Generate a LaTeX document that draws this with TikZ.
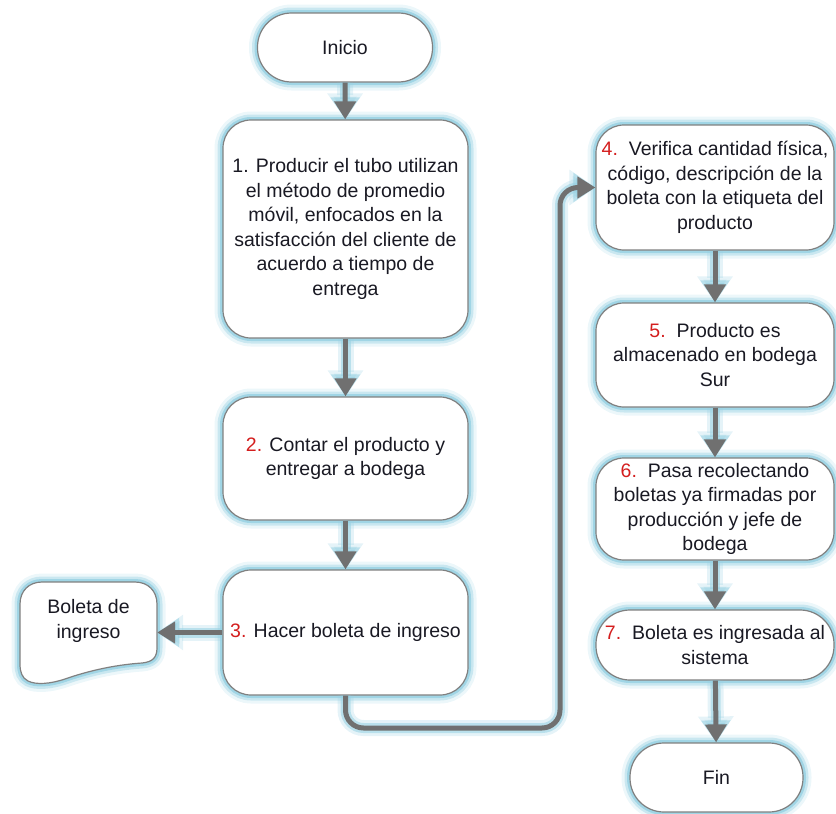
\documentclass[tikz,border=0pt]{standalone}
\usepackage{fontspec}
\setmainfont{Liberation Sans}
\usetikzlibrary{arrows.meta}

\definecolor{glowc}{RGB}{150,208,226}
\definecolor{edgec}{RGB}{128,128,128}
\definecolor{arrc}{RGB}{112,112,112}
\definecolor{numc}{RGB}{212,30,30}
\definecolor{txtc}{RGB}{25,25,35}

\newcommand{\stepnum}[1]{\textcolor{numc}{#1}}

\tikzset{
  glow/.style={
    preaction={draw=glowc, line width=17pt, opacity=.18},
    preaction={draw=glowc, line width=11pt, opacity=.40},
    preaction={draw=glowc, line width=6pt, opacity=.80}},
  procbox/.style={glow, draw=edgec, line width=1.2pt, fill=white,
    rounded corners=28pt, align=center, inner sep=0pt, text=txtc,
    font=\fontsize{19.5pt}{24.5pt}\selectfont},
  termbox/.style={procbox, rounded corners=34pt},
  flow/.style={draw=arrc, line width=5pt,
    -{Triangle[length=18pt,width=21pt]},
    preaction={draw=glowc, line width=16pt, opacity=.25,
      -{Triangle[length=26pt,width=34pt]}},
    preaction={draw=glowc, line width=10pt, opacity=.55,
      -{Triangle[length=22pt,width=28pt]}}},
}

\begin{document}
\begin{tikzpicture}[x=1pt,y=-1pt]
\useasboundingbox (0,0) rectangle (836,814);

% left column
\node[termbox, minimum width=175pt, minimum height=69pt] (inicio) at (345,47.5) {Inicio};
\node[procbox, minimum width=245pt, minimum height=218pt] (b1) at (345.5,229)
  {1. Producir el tubo utilizan\\ el método de promedio\\ móvil, enfocados en la\\
   satisfacción del cliente de\\ acuerdo a tiempo de\\ entrega};
\node[procbox, minimum width=245pt, minimum height=123pt] (b2) at (345.5,458.5)
  {\stepnum{2.} Contar el producto y\\ entregar a bodega};
\node[procbox, minimum width=245pt, minimum height=125pt] (b3) at (345.5,632.5)
  {\stepnum{3.} Hacer boleta de ingreso};

% document shape
\draw[glow, draw=edgec, line width=1.2pt, fill=white]
  (20,604) .. controls (20,591) and (29,582) .. (42,582)
  -- (135,582) .. controls (148,582) and (157,591) .. (157,604)
  -- (157,648) .. controls (157,658) and (152,662) .. (142,663)
  .. controls (112,665) and (85,672) .. (65,679)
  .. controls (50,684) and (36,685) .. (28,681)
  .. controls (22,678) and (20,672) .. (20,664) -- cycle;
\node[align=center, inner sep=0pt, text=txtc, minimum width=137pt,
  font=\fontsize{19.5pt}{24.5pt}\selectfont] (bol) at (88.5,621) {Boleta de\\ ingreso};

% right column
\node[procbox, minimum width=238pt, minimum height=125pt] (b4) at (715,187.5)
  {\stepnum{4.}\ \ Verifica cantidad física,\\ código, descripción de la\\
   boleta con la etiqueta del\\ producto};
\node[procbox, minimum width=238pt, minimum height=104pt] (b5) at (715,355)
  {\stepnum{5.}\ \ Producto es\\ almacenado en bodega\\ Sur};
\node[procbox, minimum width=238pt, minimum height=102pt] (b6) at (715,509)
  {\stepnum{6.}\ \ Pasa recolectando\\ boletas ya firmadas por\\ producción y jefe de\\ bodega};
\node[termbox, minimum width=238pt, minimum height=70pt] (b7) at (715,645)
  {\stepnum{7.}\ \ Boleta es ingresada al\\ sistema};
\node[termbox, minimum width=173pt, minimum height=69pt] (fin) at (716.5,777.5) {Fin};

% connectors
\draw[flow] (inicio) -- (b1);
\draw[flow] (b1) -- (b2);
\draw[flow] (b2) -- (b3);
\draw[flow] (b3.west) -- (b3.west -| bol.east);
\coordinate (turn) at (560,728);
\draw[flow, rounded corners=18pt] (b3.south) |- (turn) |- (b4.west);
\draw[flow] (b4) -- (b5);
\draw[flow] (b5) -- (b6);
\draw[flow] (b6) -- (b7);
\draw[flow] (b7) -- (fin);
\end{tikzpicture}
\end{document}
